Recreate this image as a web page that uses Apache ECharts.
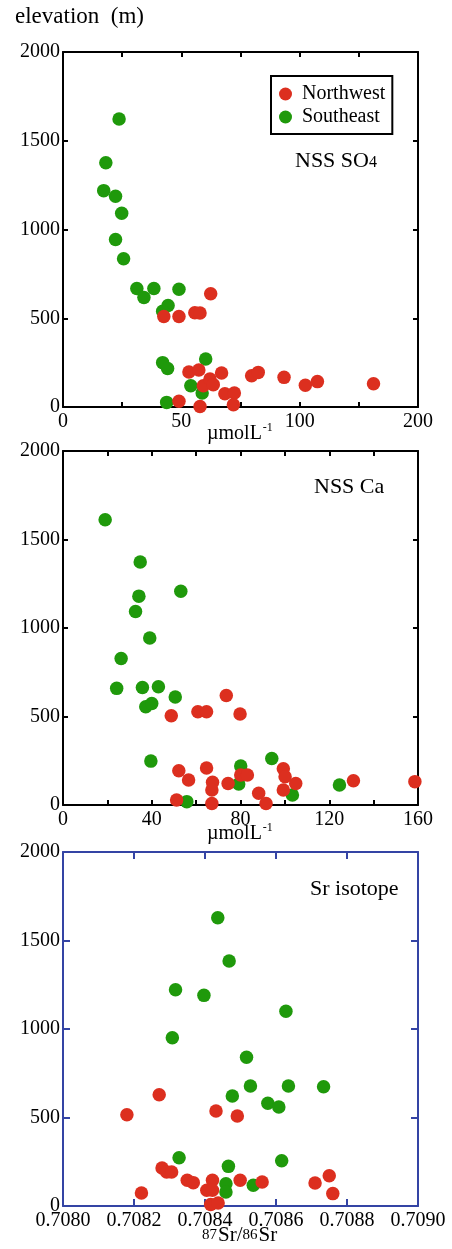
<!DOCTYPE html>
<html>
<head>
<meta charset="utf-8">
<script src="https://cdn.jsdelivr.net/npm/echarts@6/dist/echarts.min.js"></script>
<style>
html,body{margin:0;padding:0;background:#fff;}
#chart{width:452px;height:1249px;}
</style>
</head>
<body>
<div id="chart"></div>
<script>
// ---- data (x, elevation m) ----
const seriesNames = ['Northwest', 'Southeast'];

// NSS SO4 panel (x in plotted axis units; axis tick labels 0, 50, 100, 200)
const so4Northwest = [[42.6,510],[49.0,510],[55.7,531],[57.9,530],[62.4,638],[53.2,197],[57.4,208],[59.3,120],[62.1,158],[63.5,126],[67.0,192],[68.4,75],[72.4,79],[72.0,13],[57.9,3],[49.0,32],[79.7,176],[82.5,195],[93.4,167],[102.4,122],[107.5,143],[131.2,131]];
const so4Southeast = [[23.7,1622],[18.1,1376],[17.2,1219],[22.2,1187],[24.8,1091],[22.2,944],[25.6,835],[31.2,668],[34.2,617],[38.4,668],[49.0,663],[44.4,572],[42.1,539],[42.1,250],[44.2,217],[60.3,270],[54.0,120],[58.8,79],[43.8,26]];
const so4TickLabels = {0:'0', 50:'50', 100:'100', 150:'200'};

// NSS Ca panel
const caNorthwest = [[73.6,619],[79.8,514],[48.8,504],[60.8,527],[64.7,527],[52.2,194],[56.6,141],[64.7,209],[67.4,128],[67.1,85],[51.2,28],[67.1,9],[74.4,122],[80.1,169],[83.1,169],[88.2,66],[91.5,9],[99.3,205],[100.1,160],[99.3,85],[104.9,122],[130.9,137],[158.6,132]];
const caSoutheast = [[19.0,1612],[34.8,1373],[34.2,1180],[32.7,1093],[53.1,1208],[39.1,943],[26.2,828],[24.2,659],[35.8,664],[43.0,668],[50.6,610],[37.3,555],[40.0,574],[39.6,248],[80.1,220],[79.2,119],[94.1,263],[124.6,113],[103.4,56],[55.8,19]];

// Sr isotope panel
const srNorthwest = [[0.708180,516],[0.708271,629],[0.708431,537],[0.708491,508],[0.708279,215],[0.708292,192],[0.708306,192],[0.708350,145],[0.708367,132],[0.708421,145],[0.708405,89],[0.708421,89],[0.708416,9],[0.708437,17],[0.708221,73],[0.708499,145],[0.708561,136],[0.708710,130],[0.708750,171],[0.708760,70]];
const srSoutheast = [[0.708436,1629],[0.708468,1384],[0.708317,1222],[0.708397,1190],[0.708628,1100],[0.708308,951],[0.708517,840],[0.708528,678],[0.708635,678],[0.708734,674],[0.708477,621],[0.708577,580],[0.708608,559],[0.708327,273],[0.708616,256],[0.708466,224],[0.708459,126],[0.708459,79],[0.708536,117]];

const elevTicks = [0, 500, 1000, 1500, 2000];

// ---- styling ----
const SERIF = '"Liberation Serif", "Times New Roman", serif';
const RED = '#dc2f1f';
const GREEN = '#1f990b';
const BLUE = '#3444a4';

const grids = [
  {left: 63, top: 52, width: 355, height: 355},
  {left: 63, top: 451, width: 355, height: 354},
  {left: 63, top: 852, width: 355, height: 354}
];

const xDefs = [
  {min: 0, max: 150, interval: 25, fmt: v => so4TickLabels[Math.round(v)] || '', color: '#000'},
  {min: 0, max: 160, interval: 20, fmt: v => (Math.round(v) % 40 === 0 ? String(Math.round(v)) : ''), color: '#000'},
  {min: 0.7080, max: 0.7090, interval: 0.0002, fmt: v => v.toFixed(4), color: BLUE}
];

const xAxes = [], yAxes = [];
xDefs.forEach((d, i) => {
  const line = {show: true, onZero: false, lineStyle: {color: d.color, width: 2}};
  const tick = {show: true, inside: true, length: i === 2 ? 7 : 5, lineStyle: {color: d.color, width: 2}};
  xAxes.push({
    type: 'value', gridIndex: i, position: 'bottom', min: d.min, max: d.max, interval: d.interval,
    axisLine: line, axisTick: tick, splitLine: {show: false},
    axisLabel: {show: true, formatter: d.fmt, margin: 5, color: '#000', fontFamily: SERIF, fontSize: 20, showMinLabel: true, showMaxLabel: true}
  });
  xAxes.push({
    type: 'value', gridIndex: i, position: 'top', min: d.min, max: d.max, interval: d.interval,
    axisLine: line, axisTick: tick, splitLine: {show: false}, axisLabel: {show: false}
  });
  yAxes.push({
    type: 'value', gridIndex: i, position: 'left', min: 0, max: 2000, interval: 500,
    axisLine: line, axisTick: tick, splitLine: {show: false},
    axisLabel: {show: true, margin: 3, color: '#000', fontFamily: SERIF, fontSize: 20,
      formatter: v => (elevTicks.indexOf(v) >= 0 ? String(v) : '')}
  });
  yAxes.push({
    type: 'value', gridIndex: i, position: 'right', min: 0, max: 2000, interval: 500,
    axisLine: line, axisTick: tick, splitLine: {show: false}, axisLabel: {show: false}
  });
});

const panelData = [
  [so4Northwest, so4Southeast],
  [caNorthwest, caSoutheast],
  [srNorthwest, srSoutheast]
];
const series = [];
panelData.forEach((pair, i) => {
  // Southeast drawn first, Northwest on top
  series.push({
    name: seriesNames[1], type: 'scatter', xAxisIndex: i * 2, yAxisIndex: i * 2,
    data: pair[1], symbol: 'circle', symbolSize: 13.5, itemStyle: {color: GREEN, opacity: 1}, z: 2
  });
  series.push({
    name: seriesNames[0], type: 'scatter', xAxisIndex: i * 2, yAxisIndex: i * 2,
    data: pair[0], symbol: 'circle', symbolSize: 13.5, itemStyle: {color: RED, opacity: 1}, z: 3
  });
});

const txt = (fs) => ({fontFamily: SERIF, fontSize: fs, color: '#000'});

const option = {
  animation: false,
  backgroundColor: '#fff',
  grid: grids,
  xAxis: xAxes,
  yAxis: yAxes,
  series: series,
  legend: {
    data: seriesNames, orient: 'vertical', left: 271, top: 76,
    backgroundColor: '#fff', borderColor: '#000', borderWidth: 2,
    padding: [8, 7, 7, 8], itemGap: 3, itemWidth: 13, itemHeight: 13, icon: 'circle',
    textStyle: {fontFamily: SERIF, fontSize: 20, color: '#000', lineHeight: 20, padding: [0, 0, 0, 5]},
    selectedMode: false
  },
  graphic: [
    {type: 'text', left: 15, top: 5, style: {text: 'elevation  (m)', font: '23px ' + SERIF, fill: '#000'}},
    {type: 'text', left: 295, top: 150, style: {
      text: '{b|NSS SO}{c|4}', rich: {b: {...txt(22), verticalAlign: 'bottom', lineHeight: 24}, c: {...txt(16), verticalAlign: 'bottom', lineHeight: 18, padding: [0, 0, 1, 0]}}}},
    {type: 'text', left: 314, top: 476, style: {text: '{b|NSS Ca}', rich: {b: {...txt(22), lineHeight: 24}}}},
    {type: 'text', left: 310, top: 878, style: {text: '{b|Sr isotope}', rich: {b: {...txt(22), lineHeight: 24}}}},
    {type: 'text', left: 207, top: 422, style: {
      text: '{a|µmolL}{s|-1}', rich: {a: {...txt(20), verticalAlign: 'bottom', lineHeight: 22}, s: {...txt(12), verticalAlign: 'top', lineHeight: 12, padding: [0, 0, 0, 1]}}}},
    {type: 'text', left: 207, top: 822, style: {
      text: '{a|µmolL}{s|-1}', rich: {a: {...txt(20), verticalAlign: 'bottom', lineHeight: 22}, s: {...txt(12), verticalAlign: 'top', lineHeight: 12, padding: [0, 0, 0, 1]}}}},
    {type: 'text', left: 202, top: 1225, style: {
      text: '{s|87}{a|Sr/}{s|86}{a|Sr}', rich: {a: {...txt(21), verticalAlign: 'bottom', lineHeight: 22}, s: {...txt(15), verticalAlign: 'bottom', lineHeight: 15, padding: [0, 1, 3, 0]}}}}
  ]
};

const chart = echarts.init(document.getElementById('chart'), null, {renderer: 'canvas'});
chart.setOption(option);
</script>
</body>
</html>
